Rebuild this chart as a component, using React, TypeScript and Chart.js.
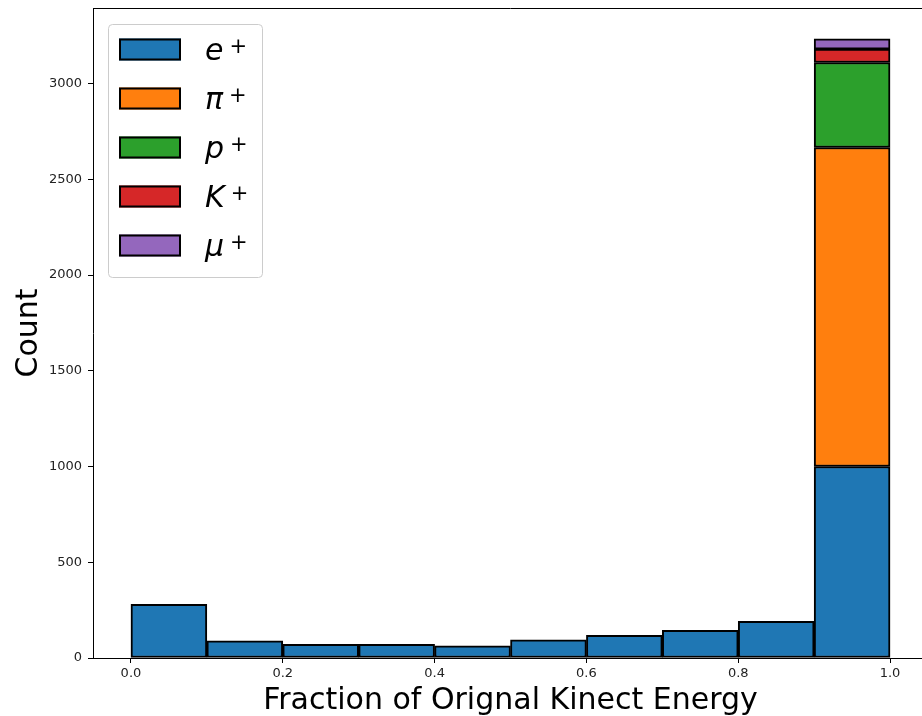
import React, { useEffect, useRef } from 'react';
import { Chart, registerables } from 'chart.js';

Chart.register(...registerables);

// Histogram bin centres (bin width 0.1 from 0.0 to 1.0)
const binCenters = [0.05, 0.15, 0.25, 0.35, 0.45, 0.55, 0.65, 0.75, 0.85, 0.95];
const xTicks = [0, 0.2, 0.4, 0.6, 0.8, 1.0];
const yTicks = [0, 500, 1000, 1500, 2000, 2500, 3000];

// Counts per bin for each particle species (stacked)
const electron = [280, 90, 71, 71, 64, 95, 118, 145, 191, 1000];
const pion = [0, 0, 0, 0, 0, 0, 0, 0, 0, 1666];
const proton = [0, 0, 0, 0, 0, 0, 0, 0, 0, 444];
const kaon = [0, 0, 0, 0, 0, 0, 0, 0, 0, 70];
const muon = [0, 0, 0, 0, 0, 0, 0, 0, 0, 53];

const symbols = ['e', 'π', 'p', 'K', 'μ'];
const colors = ['#1f77b4', '#ff7f0e', '#2ca02c', '#d62728', '#9467bd'];
const seriesValues = [electron, pion, proton, kaon, muon];

const xTitle = 'Fraction of Orignal Kinect Energy';
const yTitle = 'Count';

const FONT = '"DejaVu Sans", sans-serif';

const decorPlugin = {
  id: 'decor',
  afterDraw(chart: any) {
    const ctx = chart.ctx as CanvasRenderingContext2D;
    const a = chart.chartArea;
    ctx.save();
    // top + right spines
    ctx.strokeStyle = '#000';
    ctx.lineWidth = 1;
    ctx.beginPath();
    ctx.moveTo(a.left, a.top + 0.5);
    ctx.lineTo(a.right, a.top + 0.5);
    ctx.moveTo(a.right - 0.5, a.top);
    ctx.lineTo(a.right - 0.5, a.bottom);
    ctx.stroke();

    // axis titles
    ctx.fillStyle = '#000';
    ctx.font = `30px ${FONT}`;
    ctx.textAlign = 'center';
    ctx.textBaseline = 'alphabetic';
    ctx.fillText(xTitle, (a.left + a.right) / 2, 709);
    ctx.save();
    ctx.translate(37, (a.top + a.bottom) / 2);
    ctx.rotate(-Math.PI / 2);
    ctx.fillText(yTitle, 0, 0);
    ctx.restore();

    // legend
    const bx = 108, by = 24, bw = 154, bh = 253;
    ctx.beginPath();
    (ctx as any).roundRect(bx + 0.5, by + 0.5, bw, bh, 4);
    ctx.fillStyle = 'rgba(255,255,255,0.8)';
    ctx.fill();
    ctx.strokeStyle = '#cccccc';
    ctx.lineWidth = 1;
    ctx.stroke();

    const dsets = chart.data.datasets;
    dsets.forEach((ds: any, i: number) => {
      const cy = 49.5 + i * 49;
      ctx.fillStyle = ds.backgroundColor;
      ctx.fillRect(119, cy - 11, 62, 22);
      ctx.strokeStyle = '#000';
      ctx.lineWidth = 2;
      ctx.strokeRect(120, cy - 10, 60, 20);

      ctx.fillStyle = '#000';
      ctx.textAlign = 'left';
      ctx.textBaseline = 'alphabetic';
      ctx.font = `italic 30px ${FONT}`;
      const sym = ds.symbol as string;
      ctx.fillText(sym, 205, cy + 10);
      const w = ctx.measureText(sym).width;
      ctx.font = `21px ${FONT}`;
      ctx.fillText('+', 205 + w + 6, cy + 3.5);
    });
    ctx.restore();
  },
};

export default function App() {
  const ref = useRef<HTMLCanvasElement | null>(null);

  useEffect(() => {
    if (!ref.current) return;
    const totals = binCenters.map((_, j) => seriesValues.reduce((s, v) => s + v[j], 0));
    const yMax = Math.max(...totals) * 1.05;

    const datasets = seriesValues.map((vals, i) => ({
      label: symbols[i] + '⁺',
      symbol: symbols[i],
      data: binCenters.map((x, j) => ({ x, y: vals[j] })).filter((p) => p.y > 0),
      backgroundColor: colors[i],
      borderColor: '#000',
      borderWidth: 2,
      borderSkipped: false,
      barPercentage: 1,
      categoryPercentage: 1,
    }));

    const tickFont = { family: FONT, size: 13 };

    const chart = new Chart(ref.current, {
      type: 'bar',
      data: { datasets: datasets as any },
      options: {
        animation: false,
        responsive: false,
        devicePixelRatio: 1,
        layout: { padding: { left: 0, top: 8, right: 7, bottom: 0 } },
        plugins: {
          legend: { display: false },
          tooltip: { enabled: false },
          title: { display: false },
        },
        scales: {
          x: {
            type: 'linear',
            min: -0.05,
            max: 1.05,
            stacked: true,
            offset: false,
            afterBuildTicks: (s: any) => {
              s.ticks = xTicks.map((v) => ({ value: v }));
            },
            afterFit: (s: any) => {
              s.height = 58;
              s.paddingLeft = 0;
              s.paddingRight = 0;
            },
            ticks: {
              callback: (v: any) => Number(v).toFixed(1),
              font: tickFont,
              color: '#222',
              padding: 3,
              maxRotation: 0,
              autoSkip: false,
            },
            grid: { drawOnChartArea: false, drawTicks: true, tickLength: 5, color: '#000', offset: false },
            border: { display: true, color: '#000', width: 1 },
          },
          y: {
            type: 'linear',
            min: 0,
            max: yMax,
            stacked: true,
            afterBuildTicks: (s: any) => {
              s.ticks = yTicks.map((v) => ({ value: v }));
            },
            afterFit: (s: any) => {
              s.width = 93;
              s.paddingTop = 0;
              s.paddingBottom = 0;
            },
            ticks: { callback: (v: any) => String(v), font: tickFont, color: '#222', padding: 6 },
            grid: { drawOnChartArea: false, drawTicks: true, tickLength: 5, color: '#000' },
            border: { display: true, color: '#000', width: 1 },
          },
        },
      } as any,
      plugins: [decorPlugin],
    });
    return () => chart.destroy();
  }, []);

  return (
    <div style={{ position: 'absolute', left: 0, top: 0, width: 922, height: 716, overflow: 'hidden', background: '#fff' }}>
      <canvas ref={ref} width={935} height={716} style={{ display: 'block' }} />
    </div>
  );
}
